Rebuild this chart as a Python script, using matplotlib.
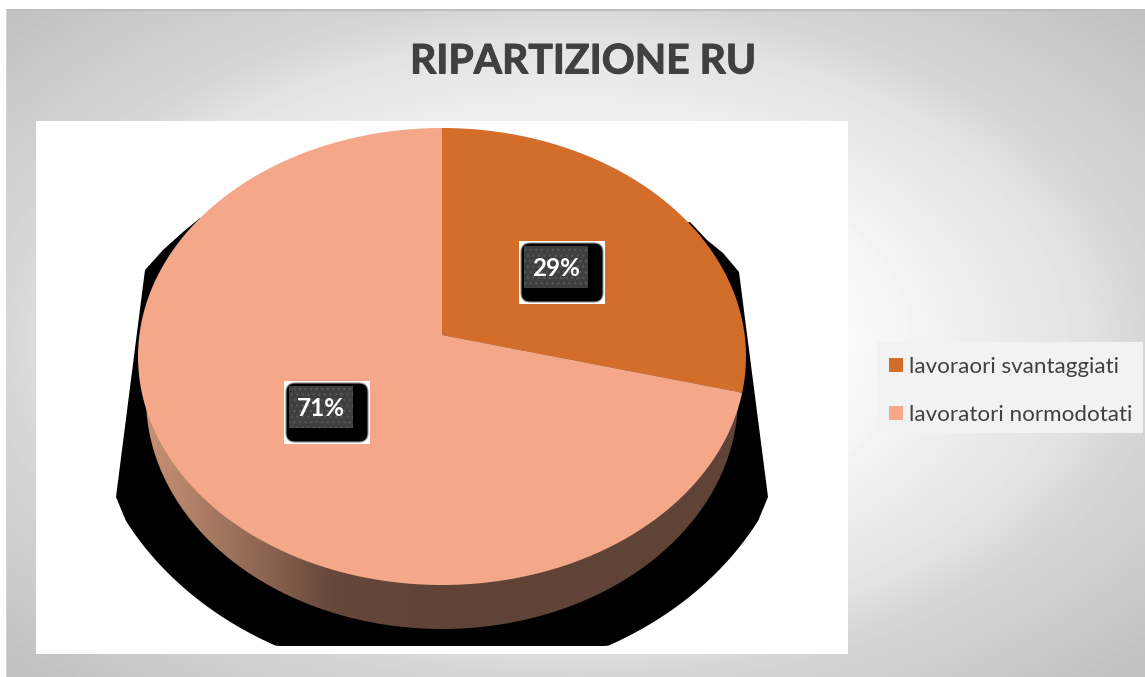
import numpy as np
import matplotlib
matplotlib.use("Agg")
import matplotlib.pyplot as plt
import matplotlib.patheffects as pe
from matplotlib.patches import Ellipse, Polygon, Rectangle, FancyBboxPatch, Patch
from matplotlib.path import Path
from matplotlib.transforms import Transform

TITLE = "RIPARTIZIONE RU"
CATEGORIES = ["lavoraori svantaggiati", "lavoratori normodotati"]
VALUES = [29, 71]
LABELS = ["29%", "71%"]
COLORS = ["#D26D2A", "#F4A889"]
LABEL_XY = [(556, 267), (321, 407)]

W, H = 1145, 677
plt.rcParams["font.family"] = ["Lato", "DejaVu Sans"]
plt.rcParams["hatch.linewidth"] = 1.0


class Perspective(Transform):
    """Projective map of the unit disc to itself, moving the centre upward."""
    input_dims = output_dims = 2
    is_affine = False
    has_inverse = False

    def __init__(self, t):
        super().__init__()
        self.t = t

    def transform_non_affine(self, xy):
        xy = np.asarray(xy, float)
        d = 1 + self.t * xy[:, 1]
        return np.column_stack((xy[:, 0] * np.sqrt(1 - self.t ** 2) / d,
                                (xy[:, 1] + self.t) / d))

    def transform_path_non_affine(self, path):
        pts = []
        for bez, code in path.iter_bezier():
            if code == Path.MOVETO:
                continue
            pts.append(bez(np.linspace(0, 1, 40)))
        return Path(self.transform_non_affine(np.vstack(pts)), closed=False)


fig = plt.figure(figsize=(W / 100, H / 100), dpi=100, facecolor="white")
bg = fig.add_axes([0, 0, 1, 1])
bg.set_xlim(0, W)
bg.set_ylim(H, 0)
bg.axis("off")

# slide background
xx, yy = np.meshgrid(np.arange(6, W) + .5, np.arange(9, H) + .5)
r = np.hypot((xx - 575) / 570, (yy - 340) / 335)
shade = np.interp(r, [0, .4, .9, 1.0, 1.41], [255, 255, 226, 214, 192]) / 255
bg.imshow(shade, cmap="gray", vmin=0, vmax=1, extent=(6, W, H, 9), aspect="auto",
          interpolation="bilinear", zorder=0)
bg.set_xlim(0, W)
bg.set_ylim(H, 0)
bg.add_patch(Rectangle((6, 9), W - 6, 2, fc="#BDBDBD", ec="none", zorder=1))
bg.add_patch(Rectangle((6, 9), 1, H - 9, fc="#D4D4D4", ec="none", zorder=1))
bg.add_patch(Rectangle((36, 121), 812, 533, fc="white", ec="none", zorder=2))

# black shadow behind the disc
ang = np.radians(np.linspace(152, 28, 160))
ax_, ay_ = 442 + 358 * np.cos(ang), 380 + 300 * np.sin(ang)
ay_ = np.minimum(ay_, 646)
outline = np.column_stack((
    np.r_[145, 116, ax_, 768, 739, 723, 707, 690, 442, 200, 183, 163],
    np.r_[270, 497, ay_, 497, 272, 253, 240, 222, 300, 218, 232, 250]))
bg.add_patch(Polygon(outline, closed=True, fc="black", ec="none", zorder=3))

# side of the disc
grad_x = np.linspace(140, 745, 300)
grad = np.interp(grad_x, [140, 170, 260, 330, 420, 745], [0, .12, .55, .94, 1, 1])
c0, c1 = np.array([200, 146, 117]) / 255, np.array([96, 67, 55]) / 255
rgb = (c0[None, :] * (1 - grad[:, None]) + c1[None, :] * grad[:, None])[None, :, :]
im = bg.imshow(rgb, extent=(140, 745, 640, 160), aspect="auto", zorder=4)
bg.set_xlim(0, W)
bg.set_ylim(H, 0)
side = Ellipse((442, 398), 592, 462, fc="none", ec="none", transform=bg.transData)
bg.add_patch(side)
im.set_clip_path(side)

# top of the disc
pie_ax = fig.add_axes([138 / W, (H - 585) / H, 608 / W, 457 / H])
wedges, _ = pie_ax.pie(VALUES, colors=COLORS, startangle=90, counterclock=False,
                       radius=1, wedgeprops=dict(linewidth=0))
pie_ax.set_aspect("auto")
pie_ax.set_xlim(-1, 1)
pie_ax.set_ylim(-1, 1)
pie_ax.patch.set_visible(False)
for w in wedges:
    w.set_transform(Perspective(0.094) + pie_ax.transData)
    w.set_clip_on(False)

# overlay: labels, title, legend
top = fig.add_axes([0, 0, 1, 1])
top.set_xlim(0, W)
top.set_ylim(H, 0)
top.axis("off")
top.patch.set_visible(False)

for txt, (cx, cy) in zip(LABELS, LABEL_XY):
    top.add_patch(Rectangle((cx - 37, cy - 26), 86, 63, fc="white", ec="none", zorder=2))
    top.add_patch(FancyBboxPatch((cx - 35, cy - 24), 82, 59,
                                 boxstyle="round,pad=0,rounding_size=9",
                                 fc="black", ec="#8C8C8C", lw=.8, zorder=3))
    top.add_patch(Rectangle((cx - 32, cy - 21), 64, 41.5, fc="#3F3F3F", ec="#565656",
                            hatch="...", lw=0, zorder=4))
    top.text(cx, cy + 1, txt, color="white", fontsize=17.5, fontweight="bold",
             ha="center", va="center", zorder=5)

top.text(583, 62, TITLE, color="#404040", fontsize=29.4, fontweight="bold",
         ha="center", va="center",
         path_effects=[pe.withStroke(linewidth=.7, foreground="#404040")])

# legend
top.add_patch(Rectangle((877, 342), 266, 91, fc="#F2F2F2", ec="none", zorder=1))
handles = [Patch(fc=c, ec="none") for c in COLORS]
FS = 16.1
px = 72 / 100 / FS  # one pixel in font-size units
leg = top.legend(handles, CATEGORIES, loc="upper left", bbox_to_anchor=(877, 345),
                 bbox_transform=top.transData, fontsize=FS, frameon=False, labelcolor="#404040",
                 borderaxespad=0, borderpad=12 * px, handlelength=14 * px, handleheight=14 * px,
                 handletextpad=6 * px, labelspacing=28 * px)

fig.savefig("out.png", dpi=100)
